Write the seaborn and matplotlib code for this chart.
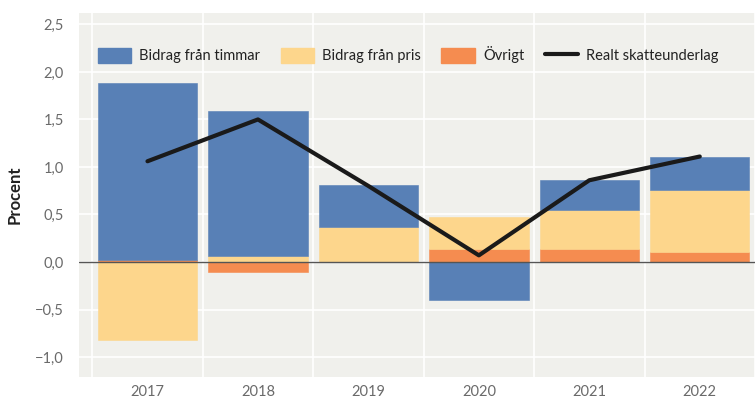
import numpy as np
import pandas as pd
import matplotlib
matplotlib.use("Agg")
import matplotlib.pyplot as plt
from matplotlib.patches import Patch
from matplotlib.lines import Line2D
from matplotlib.ticker import FuncFormatter, FixedLocator
import seaborn as sns

years = ["2017", "2018", "2019", "2020", "2021", "2022"]
timmar = [1.86, 1.53, 0.44, -0.40, 0.31, 0.35]
pris = [-0.82, 0.06, 0.37, 0.33, 0.41, 0.66]
ovrigt = [0.02, -0.10, 0.00, 0.14, 0.14, 0.10]
skatteunderlag = [1.06, 1.50, 0.80, 0.07, 0.86, 1.11]

series_names = ["Bidrag från timmar", "Bidrag från pris", "Övrigt"]
line_name = "Realt skatteunderlag"
colors = {"Bidrag från timmar": "#5880B6",
          "Bidrag från pris": "#FDD68C",
          "Övrigt": "#F58C50"}

sns.set_theme(style="white")
plt.rcParams["font.family"] = ["Lato", "DejaVu Sans"]

fig = plt.figure(figsize=(7.55, 4.0), dpi=100)
ax = fig.add_axes([79 / 755, (400 - 377) / 400, 676 / 755, (377 - 13) / 400])
ax.set_facecolor("#F0F0EC")

# stack positive parts upward and negative parts downward, Övrigt closest to zero
stack_order = [("Övrigt", ovrigt), ("Bidrag från pris", pris), ("Bidrag från timmar", timmar)]
pos_base = np.zeros(len(years))
neg_base = np.zeros(len(years))
for name, vals in stack_order:
    vals = np.asarray(vals, dtype=float)
    bottom = np.where(vals >= 0, pos_base, neg_base)
    df = pd.DataFrame({"year": years, "value": vals})
    sns.barplot(data=df, x="year", y="value", bottom=bottom, color=colors[name],
                saturation=1, width=0.9, edgecolor=colors[name], linewidth=0.4,
                errorbar=None, ax=ax, zorder=2)
    pos_base = pos_base + np.where(vals >= 0, vals, 0)
    neg_base = neg_base + np.where(vals < 0, vals, 0)

sns.lineplot(x=np.arange(len(years)), y=skatteunderlag, color="#1a1a1a",
             linewidth=3, ax=ax, zorder=4)

ax.axhline(0, color="#555555", linewidth=1, zorder=3)

ax.set_xlim(-0.62, 5.5)
ax.set_ylim(-1.21, 2.62)
ax.yaxis.set_major_locator(FixedLocator([-1.0, -0.5, 0.0, 0.5, 1.0, 1.5, 2.0, 2.5]))
ax.yaxis.set_major_formatter(FuncFormatter(
    lambda v, p: f"{v:.1f}".replace(".", ",").replace("-", "\u2212")))
ax.set_xticks(range(len(years)))
ax.set_xticklabels(years)
ax.xaxis.set_minor_locator(FixedLocator([i - 0.5 for i in range(len(years) + 1)]))

ax.grid(False)
ax.grid(axis="y", which="major", color="white", linewidth=1.2, zorder=0)
ax.grid(axis="x", which="minor", color="white", linewidth=1.2, zorder=0)
ax.set_axisbelow(True)

ax.tick_params(axis="both", which="both", length=0, labelsize=10.5, labelcolor="#6a6a6a")
ax.tick_params(axis="y", pad=11)
ax.tick_params(axis="x", pad=6)
for s in ax.spines.values():
    s.set_visible(False)

ax.set_xlabel("")
ax.set_ylabel("Procent", fontsize=12, fontweight="bold", color="#222222", labelpad=9)

handles = [Patch(facecolor=colors[n], edgecolor=colors[n]) for n in series_names]
handles.append(Line2D([0], [0], color="#1a1a1a", linewidth=3))
ax.legend(handles, series_names + [line_name], ncol=4, frameon=False,
          loc="center left", bbox_to_anchor=(0.008, 0.885), fontsize=10.5,
          handlelength=2.3, handleheight=1.25, handletextpad=0.55,
          columnspacing=1.4, labelcolor="#222222")

fig.savefig("out.png", dpi=100, facecolor="white")
